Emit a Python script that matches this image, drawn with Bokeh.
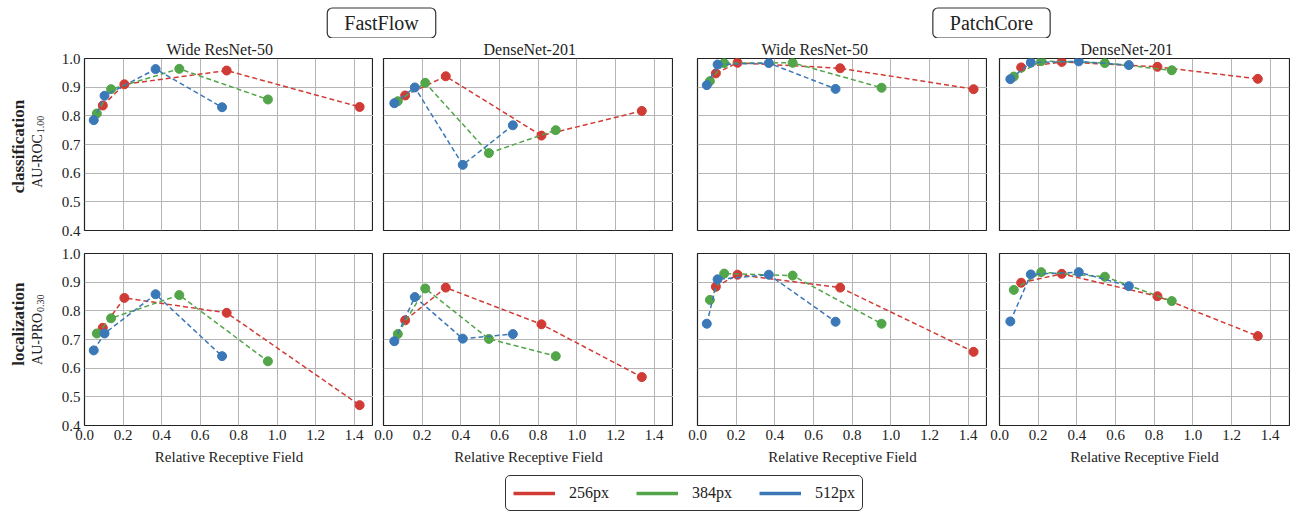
from bokeh.plotting import figure
from bokeh.layouts import column, row
from bokeh.models import Range1d, FixedTicker, PrintfTickFormatter, Label, Legend, LegendItem
from bokeh.embed import file_html
from bokeh.resources import INLINE

# ---------------- data ----------------
resolutions = ["256px", "384px", "512px"]
colors = ["#d13b35", "#52a549", "#3b78b8"]
methods = ["FastFlow", "PatchCore"]
backbones = ["Wide ResNet-50", "DenseNet-201"]
x_ticks = [0.0, 0.2, 0.4, 0.6, 0.8, 1.0, 1.2, 1.4]
y_ticks = [0.4, 0.5, 0.6, 0.7, 0.8, 0.9, 1.0]

# relative receptive field per backbone and resolution
x_wrn_256 = [0.095, 0.207, 0.738, 1.428]
x_wrn_384 = [0.064, 0.138, 0.492, 0.952]
x_wrn_512 = [0.048, 0.104, 0.369, 0.714]
x_dn_256 = [0.112, 0.322, 0.817, 1.336]
x_dn_384 = [0.074, 0.216, 0.545, 0.891]
x_dn_512 = [0.056, 0.162, 0.410, 0.669]

# classification AU-ROC
ff_wrn_cls_256 = [0.836, 0.910, 0.958, 0.831]
ff_wrn_cls_384 = [0.808, 0.893, 0.964, 0.857]
ff_wrn_cls_512 = [0.785, 0.870, 0.963, 0.830]
ff_dn_cls_256 = [0.871, 0.938, 0.731, 0.817]
ff_dn_cls_384 = [0.851, 0.915, 0.670, 0.750]
ff_dn_cls_512 = [0.844, 0.899, 0.629, 0.767]
pc_wrn_cls_256 = [0.948, 0.985, 0.966, 0.893]
pc_wrn_cls_384 = [0.921, 0.984, 0.985, 0.898]
pc_wrn_cls_512 = [0.907, 0.979, 0.984, 0.894]
pc_dn_cls_256 = [0.969, 0.988, 0.971, 0.929]
pc_dn_cls_384 = [0.937, 0.991, 0.984, 0.959]
pc_dn_cls_512 = [0.928, 0.986, 0.990, 0.977]

# localization AU-PRO
ff_wrn_loc_256 = [0.741, 0.845, 0.793, 0.471]
ff_wrn_loc_384 = [0.721, 0.774, 0.855, 0.624]
ff_wrn_loc_512 = [0.662, 0.721, 0.858, 0.642]
ff_dn_loc_256 = [0.767, 0.881, 0.753, 0.569]
ff_dn_loc_384 = [0.719, 0.878, 0.702, 0.642]
ff_dn_loc_512 = [0.694, 0.848, 0.703, 0.719]
pc_wrn_loc_256 = [0.884, 0.926, 0.881, 0.657]
pc_wrn_loc_384 = [0.838, 0.930, 0.923, 0.755]
pc_wrn_loc_512 = [0.755, 0.910, 0.926, 0.762]
pc_dn_loc_256 = [0.898, 0.929, 0.851, 0.712]
pc_dn_loc_384 = [0.873, 0.935, 0.919, 0.834]
pc_dn_loc_512 = [0.763, 0.927, 0.935, 0.886]

X_WRN = [x_wrn_256, x_wrn_384, x_wrn_512]
X_DN = [x_dn_256, x_dn_384, x_dn_512]

panels = [
    [(X_WRN, [ff_wrn_cls_256, ff_wrn_cls_384, ff_wrn_cls_512]),
     (X_DN, [ff_dn_cls_256, ff_dn_cls_384, ff_dn_cls_512]),
     (X_WRN, [pc_wrn_cls_256, pc_wrn_cls_384, pc_wrn_cls_512]),
     (X_DN, [pc_dn_cls_256, pc_dn_cls_384, pc_dn_cls_512])],
    [(X_WRN, [ff_wrn_loc_256, ff_wrn_loc_384, ff_wrn_loc_512]),
     (X_DN, [ff_dn_loc_256, ff_dn_loc_384, ff_dn_loc_512]),
     (X_WRN, [pc_wrn_loc_256, pc_wrn_loc_384, pc_wrn_loc_512]),
     (X_DN, [pc_dn_loc_256, pc_dn_loc_384, pc_dn_loc_512])],
]
panel_titles = [backbones[0], backbones[1], backbones[0], backbones[1]]
row_labels = [("classification", "AU-ROC", "1.00"), ("localization", "AU-PRO", "0.30")]

SERIF = "Liberation Serif"
INK = "#222222"


def blank(width, height, xr, yr):
    f = figure(width=width, height=height, x_range=Range1d(*xr), y_range=Range1d(*yr),
               x_axis_location=None, y_axis_location=None, min_border=0,
               toolbar_location=None, output_backend="svg", outline_line_color=None)
    f.xgrid.visible = False
    f.ygrid.visible = False
    return f


# ---------------- header ----------------
HEAD_H = 38
header = blank(1290, HEAD_H, (0, 1290), (0, HEAD_H))
for txt, cx in zip(methods, [381, 991]):
    header.add_layout(Label(x=cx, y=HEAD_H - 22.5, text=txt, text_align="center", text_baseline="middle",
                            text_font=SERIF, text_font_size="20px", text_color=INK,
                            border_line_color="#333333", border_line_width=1.2,
                            background_fill_color="white", border_radius=5,
                            padding=(17, 17, 4, 4)))

# ---------------- panels ----------------
LABEL_W = 50
left_b = [84 - LABEL_W, 10, 24, 12]
right_b = [0, 0, 0, 1]
frame_w = [289, 290, 290, 290]
title_left = [82, 100, 64, 81]
TITLE_H = 20
tops = [0, 8]
bottoms = [15, 49]

rows = []
for ri in range(2):
    figs = []
    for ci in range(4):
        p = figure(frame_width=frame_w[ci], frame_height=172,
                   x_range=Range1d(0, 1.5), y_range=Range1d(0.4, 1.0),
                   min_border_left=left_b[ci], min_border_right=right_b[ci],
                   min_border_top=tops[ri], min_border_bottom=bottoms[ri],
                   toolbar_location=None, output_backend="svg",
                   background_fill_color="white", border_fill_color="white")
        if ri == 0:
            p.title.text = panel_titles[ci]
            p.title.align = "left"
            p.title.offset = title_left[ci]
            p.title.text_font = SERIF
            p.title.text_font_size = "16px"
            p.title.text_font_style = "normal"
            p.title.text_color = INK
            p.title.standoff = 1
        p.outline_line_color = INK
        p.outline_line_width = 1.2
        p.outline_line_alpha = 1.0
        p.xgrid.ticker = FixedTicker(ticks=x_ticks)
        p.ygrid.ticker = FixedTicker(ticks=y_ticks)
        for g in (p.xgrid, p.ygrid):
            g.grid_line_color = "#b5b5b5"
            g.grid_line_width = 1
        for ax in (p.xaxis, p.yaxis):
            ax.axis_line_color = None
            ax.major_tick_out = 0
            ax.major_tick_in = 0
            ax.minor_tick_out = 0
            ax.minor_tick_in = 0
            ax.major_label_text_font = SERIF
            ax.major_label_text_font_size = "15px"
            ax.major_label_text_color = INK
            ax.formatter = PrintfTickFormatter(format="%.1f")
        p.xaxis.ticker = FixedTicker(ticks=x_ticks)
        p.yaxis.ticker = FixedTicker(ticks=y_ticks)
        p.xaxis.major_label_standoff = 4
        p.yaxis.major_label_standoff = 4
        if ri == 0:
            p.xaxis.visible = False
        else:
            p.xaxis.axis_label = "Relative Receptive Field"
            p.xaxis.axis_label_text_font = SERIF
            p.xaxis.axis_label_text_font_style = "normal"
            p.xaxis.axis_label_text_font_size = "15px"
            p.xaxis.axis_label_text_color = INK
            p.xaxis.axis_label_standoff = 6
        if ci > 0:
            p.yaxis.visible = False

        xs_set, ys_set = panels[ri][ci]
        for k in range(3):
            p.line(xs_set[k], ys_set[k], line_color=colors[k], line_width=1.5, line_dash="5 3")
            p.scatter(xs_set[k], ys_set[k], size=9, fill_color=colors[k], line_color=colors[k])
        figs.append(p)

    # left label strip
    top = TITLE_H if ri == 0 else tops[ri]
    H = top + 172 + bottoms[ri]
    strip = blank(LABEL_W, H, (0, LABEL_W), (0, H))
    bold, main, sub = row_labels[ri]
    cy = H - (top + 86)
    strip.add_layout(Label(x=17.5, y=cy, text=bold, angle=90, angle_units="deg",
                           text_align="center", text_baseline="middle",
                           text_font=SERIF, text_font_size="17px", text_font_style="bold",
                           text_color=INK))
    strip.add_layout(Label(x=36.5, y=cy + 15, text=main, angle=90, angle_units="deg",
                           text_align="right", text_baseline="middle",
                           text_font=SERIF, text_font_size="14px", text_color=INK))
    strip.add_layout(Label(x=40, y=cy + 16, text=sub, angle=90, angle_units="deg",
                           text_align="left", text_baseline="middle",
                           text_font=SERIF, text_font_size="10px", text_color=INK))
    rows.append(row(strip, *figs, spacing=0))

# ---------------- legend ----------------
lg = blank(1290, 37, (100, 101), (0, 1))
items = []
legend_x = [x_wrn_256, x_wrn_384, x_wrn_512]
legend_y = [ff_wrn_cls_256, ff_wrn_cls_384, ff_wrn_cls_512]
for k in range(3):
    # series drawn outside this strip's view, only their legend swatches show
    r = lg.line(x=legend_x[k], y=legend_y[k], line_color=colors[k], line_width=3.5)
    items.append(LegendItem(label=resolutions[k], renderers=[r]))
legend = Legend(items=items, location=(505, 0), orientation="horizontal",
                glyph_width=42, glyph_height=20, label_standoff=14, spacing=27,
                padding=7, margin=0,
                label_text_font=SERIF, label_text_font_size="16px", label_text_color=INK,
                border_line_color="#333333", border_line_width=1.2, border_line_alpha=1.0,
                background_fill_alpha=1.0)
if "border_radius" in Legend.properties():
    legend.border_radius = 5
lg.add_layout(legend)

layout = column(header, rows[0], rows[1], lg, spacing=0)
open("out.html", "w").write(file_html(layout, INLINE))
